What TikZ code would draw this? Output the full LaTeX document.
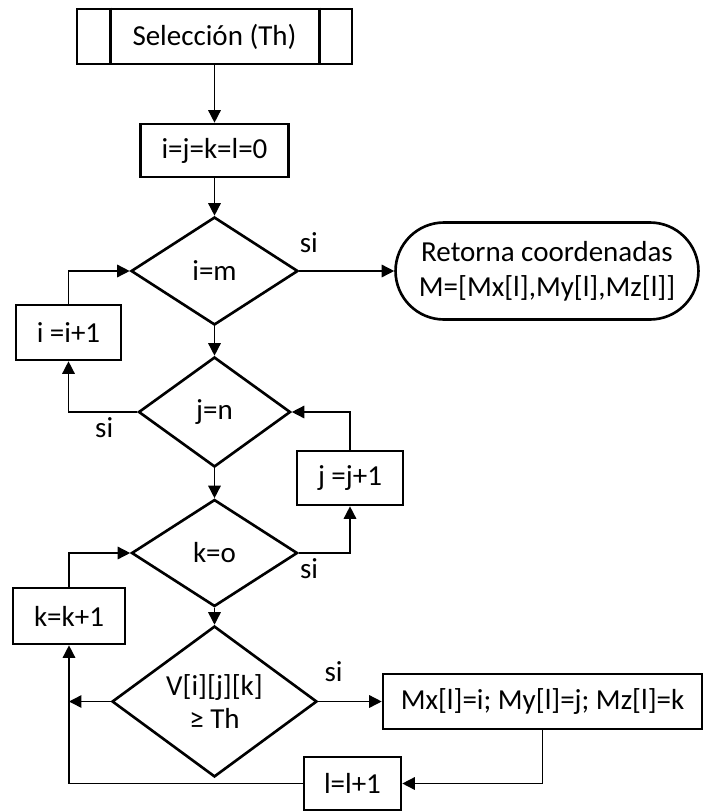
\documentclass[tikz,border=0pt]{standalone}
\usepackage{fontspec}
\setmainfont{Carlito}
\usetikzlibrary{arrows.meta}
\usetikzlibrary{shapes.geometric}
\usetikzlibrary{shapes.misc}

\tikzset{
  caja/.style={draw, line width=1.5pt, inner sep=0pt, align=center},
  rombo/.style={draw, diamond, line width=1.5pt, inner sep=0pt, align=center},
  flecha/.style={line width=0.85pt, -{Triangle[length=0.25cm,width=0.25cm]}},
  si/.style={inner sep=0pt}
}

\begin{document}
\begin{tikzpicture}[x=0.02cm, y=-0.02cm, font=\fontsize{16.5}{19}\selectfont]

\useasboundingbox (0,0) rectangle (703,812);

% inicio y contadores
\node[caja, minimum width=5.5cm, minimum height=1.1cm] (sel) at (214.5,36.5) {Selección (Th)};
\draw[line width=1.5pt] ([xshift=0.7cm]sel.north west) -- ([xshift=0.7cm]sel.south west);
\draw[line width=1.5pt] ([xshift=-0.68cm]sel.north east) -- ([xshift=-0.68cm]sel.south east);
\node[caja, minimum width=2.96cm, minimum height=1.06cm] (init) at (214.5,150.5) {i=j=k=l=0};

% bucles
\node[rombo, minimum width=3.34cm, minimum height=2.16cm] (dI) at (214.5,271) {i=m};
\node[rombo, minimum width=3.04cm, minimum height=2.2cm] (dJ) at (214.5,412) {j=n};
\node[rombo, minimum width=3.32cm, minimum height=2.14cm] (dK) at (214.5,553) {k=o};
\node[rombo, minimum width=4.1cm, minimum height=2.66cm] (dV) at (214.5,701.5) {V[i][j][k]\\[0pt]≥ Th};

\node[caja, minimum width=2.1cm, minimum height=1.1cm] (incI) at (68.5,332.5) {i =i+1};
\node[caja, minimum width=2.12cm, minimum height=1.08cm] (incJ) at (350,478) {j =j+1};
\node[caja, minimum width=2.24cm, minimum height=1.12cm] (incK) at (69,616) {k=k+1};
\node[caja, minimum width=1.94cm, minimum height=1.06cm] (incL) at (352.5,783.5) {l=l+1};

\node[caja, minimum width=6.38cm, minimum height=1.1cm] (guarda) at (542.5,701.5) {Mx[l]=i; My[l]=j; Mz[l]=k};
\node[draw, rounded rectangle, line width=1.5pt, inner sep=0pt, align=center,
      minimum width=6.06cm, minimum height=1.94cm] (ret) at (547,271)
      {Retorna coordenadas\\[1pt]M=[Mx[l],My[l],Mz[l]]};

\coordinate (junta) at (incK.south |- dV.west);

% conexiones
\draw[flecha] (sel) -- (init);
\draw[flecha] (init) -- (dI);
\draw[flecha] (dI) -- (dJ);
\draw[flecha] (dJ) -- (dK);
\draw[flecha] (dK) -- (dV);

\draw[flecha] (dI.east) -- node[si, pos=0.1, above=0.36cm] {si} (ret.west);
\draw[flecha] (incI.north) |- (dI.west);
\draw[flecha] (dJ.west) -| node[si, pos=0.24, below=0.1cm] {si} (incI.south);
\draw[flecha] (incJ.north) |- (dJ.east);
\draw[flecha] (dK.east) -| node[si, pos=0.1, below=0.1cm] {si} (incJ.south);
\draw[flecha] (incK.north) |- (dK.west);
\draw[flecha] (dV.west) -- (junta);
\draw[flecha] (dV.east) -- node[si, pos=0.24, above=0.38cm] {si} (guarda.west);
\draw[flecha] (guarda.south) |- (incL.east);
\draw[flecha] (incL.west) -| (incK.south);

\end{tikzpicture}
\end{document}
